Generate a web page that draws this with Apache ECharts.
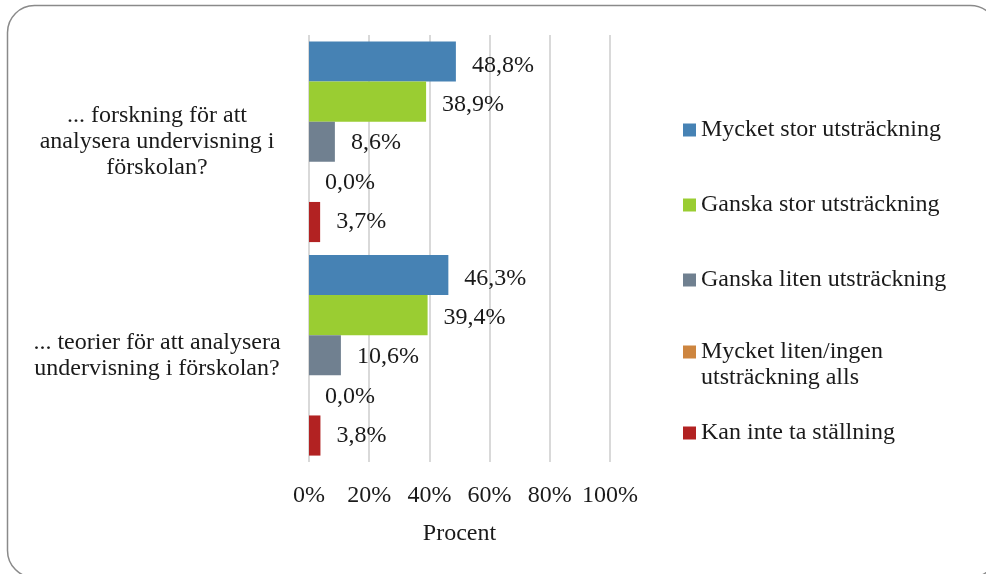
<!DOCTYPE html>
<html>
<head>
<meta charset="utf-8">
<script src="https://cdn.jsdelivr.net/npm/echarts@6/dist/echarts.min.js"></script>
<style>
  html, body { margin: 0; padding: 0; background: #fff; }
  #chart { width: 986px; height: 574px; }
</style>
</head>
<body>
<div id="chart"></div>
<script>
// data
const categories = [
  '... forskning för att\nanalysera undervisning i\nförskolan?',
  '... teorier för att analysera\nundervisning i förskolan?'
]
const seriesNames = [
  'Mycket stor utsträckning',
  'Ganska stor utsträckning',
  'Ganska liten utsträckning',
  'Mycket liten/ingen utsträckning alls',
  'Kan inte ta ställning'
]
const mycketStor = [48.8, 46.3]
const ganskaStor = [38.9, 39.4]
const ganskaLiten = [8.6, 10.6]
const mycketLiten = [0.0, 0.0]
const kanInte = [3.7, 3.8]
const xTicks = [0, 20, 40, 60, 80, 100]

const colors = ['#4682B4', '#9ACD32', '#708090', '#CD853F', '#B22222']
const font = '"Liberation Serif", "DejaVu Serif", serif'
const fontSize = 24
const textColor = '#1a1a1a'
const values = [mycketStor, ganskaStor, ganskaLiten, mycketLiten, kanInte]
// labels of the two top bars sit a bit low in the original
const labelShift = [4, 3, 1, 1, 0]

const myChart = echarts.init(document.getElementById('chart'))

const series = seriesNames.map((name, i) => ({
  name: name,
  type: 'bar',
  data: values[i],
  barGap: 0,
  barCategoryGap: '6%',
  itemStyle: { color: colors[i] },
  label: {
    show: true,
    position: 'right',
    distance: 16,
    offset: [0, labelShift[i]],
    fontFamily: font,
    fontSize: fontSize,
    color: textColor,
    formatter: (p) => p.value.toFixed(1).replace('.', ',') + '%'
  }
}))

// one legend per item so the spacing matches the original
// (empty first line keeps the icon level with "Mycket liten/ingen")
const legendTops = [117, 192, 267, 313, 420]
const legends = seriesNames.map((name, i) => ({
  data: [name],
  orient: 'vertical',
  left: 683,
  top: legendTops[i],
  padding: 0,
  itemWidth: 13,
  itemHeight: 13,
  icon: 'rect',
  formatter: (n) => n === seriesNames[3] ? '\nMycket liten/ingen\nutsträckning alls' : n,
  textStyle: {
    fontFamily: font,
    fontSize: fontSize,
    lineHeight: 26,
    color: textColor
  }
}))

const option = {
  animation: false,
  color: colors,
  textStyle: { fontFamily: font },
  graphic: [
    {
      type: 'rect',
      shape: { x: 7.5, y: 5.5, width: 990, height: 572, r: 27 },
      style: { fill: 'none', stroke: '#8a8a8a', lineWidth: 1.5 },
      silent: true
    }
  ],
  legend: legends,
  grid: {
    left: 309,
    right: 376,
    top: 35,
    bottom: 112,
    containLabel: false
  },
  xAxis: {
    type: 'value',
    min: xTicks[0],
    max: xTicks[xTicks.length - 1],
    interval: 20,
    name: 'Procent',
    nameLocation: 'middle',
    nameGap: 60,
    nameTextStyle: { fontFamily: font, fontSize: fontSize, color: textColor },
    axisLine: { show: false },
    axisTick: { show: false },
    axisLabel: {
      margin: 22,
      fontFamily: font,
      fontSize: fontSize,
      color: textColor,
      formatter: '{value}%'
    },
    splitLine: { lineStyle: { color: '#d9d9d9', width: 2 } }
  },
  yAxis: {
    type: 'category',
    inverse: true,
    data: categories,
    axisLine: { show: false },
    axisTick: { show: false },
    axisLabel: {
      align: 'center',
      margin: 152,
      fontFamily: font,
      fontSize: fontSize,
      lineHeight: 26,
      color: textColor
    }
  },
  series: series
}

myChart.setOption(option)
</script>
</body>
</html>
